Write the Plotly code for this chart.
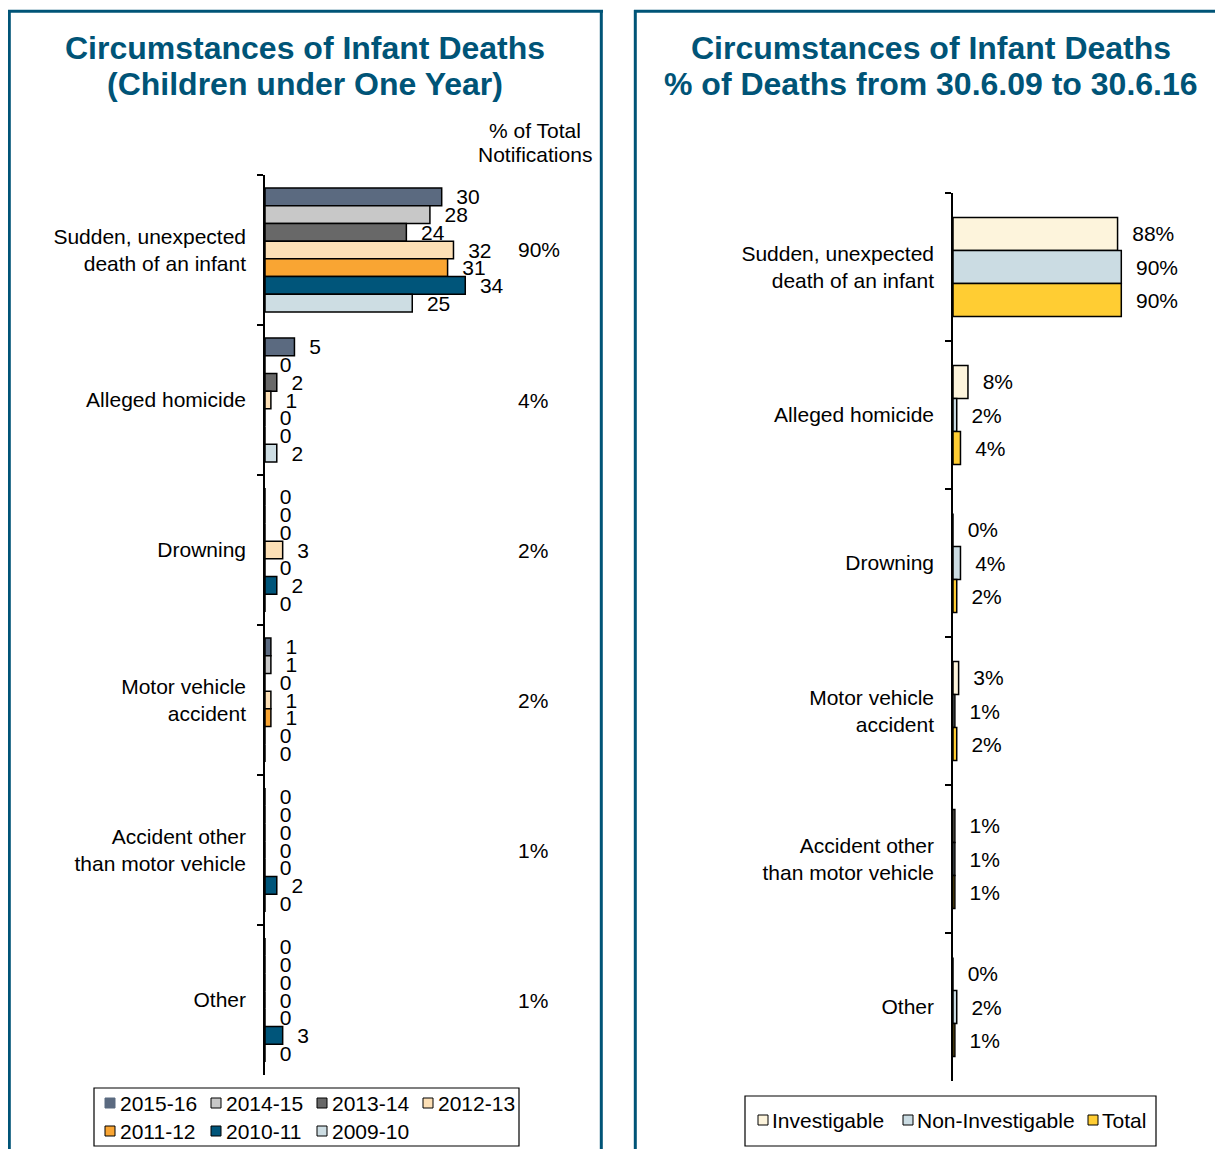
import plotly.graph_objects as go

# ---------------- data ----------------
categories = [
    "Sudden, unexpected<br>death of an infant",
    "Alleged homicide",
    "Drowning",
    "Motor vehicle<br>accident",
    "Accident other<br>than motor vehicle",
    "Other",
]

years = ["2015-16", "2014-15", "2013-14", "2012-13", "2011-12", "2010-11", "2009-10"]
v_2015_16 = [30, 5, 0, 1, 0, 0]
v_2014_15 = [28, 0, 0, 1, 0, 0]
v_2013_14 = [24, 2, 0, 0, 0, 0]
v_2012_13 = [32, 1, 3, 1, 0, 0]
v_2011_12 = [31, 0, 0, 1, 0, 0]
v_2010_11 = [34, 0, 2, 0, 2, 3]
v_2009_10 = [25, 2, 0, 0, 0, 0]
year_values = [v_2015_16, v_2014_15, v_2013_14, v_2012_13, v_2011_12, v_2010_11, v_2009_10]
pct_total = ["90%", "4%", "2%", "2%", "1%", "1%"]

groups = ["Investigable", "Non-Investigable", "Total"]
investigable = [88, 8, 0, 3, 1, 0]
non_investigable = [90, 2, 4, 1, 1, 2]
total = [90, 4, 2, 2, 1, 1]
group_values = [investigable, non_investigable, total]

# ---------------- styling ----------------
W, H = 1223, 1149
OFF = 8  # page body margin offset
FONT = "Liberation Sans, Arial, sans-serif"
TEAL = "#005477"
year_colors = ["#5b6a80", "#c8c8c8", "#686868", "#fde0b6", "#f9a533", "#00557a", "#cddde3"]
group_colors = ["#fdf4dc", "#cbdce3", "#ffcd33"]


def px(x):
    return (x - OFF) / W


def py(y):
    return 1 - (y - OFF) / H


fig = go.Figure()

# left chart bars
wL = 0.118
GL = wL * len(years)
for i, (name, vals, col) in enumerate(zip(years, year_values, year_colors)):
    fig.add_trace(go.Bar(
        y=categories, x=vals, orientation="h", name=name,
        marker=dict(color=col, line=dict(color="black", width=1.5)),
        width=wL, offset=-GL / 2 + i * wL,
        text=["\u00a0\u00a0" + str(v) for v in vals],
        textposition="outside", cliponaxis=False, constraintext="none",
        textfont=dict(size=21, color="black", family=FONT),
        xaxis="x", yaxis="y", showlegend=False, hoverinfo="skip",
    ))

# right chart bars
wR = 0.223
GR = wR * len(groups)
for i, (name, vals, col) in enumerate(zip(groups, group_values, group_colors)):
    fig.add_trace(go.Bar(
        y=categories, x=vals, orientation="h", name=name,
        marker=dict(color=col, line=dict(color="black", width=1.5)),
        width=wR, offset=-GR / 2 + i * wR,
        text=["\u00a0\u00a0" + str(v) + "%" for v in vals],
        textposition="outside", cliponaxis=False, constraintext="none",
        textfont=dict(size=21, color="black", family=FONT),
        xaxis="x2", yaxis="y2", showlegend=False, hoverinfo="skip",
    ))

yax_common = dict(
    type="category", categoryorder="array", categoryarray=categories,
    range=[len(categories) - 0.5, -0.5],
    showline=True, linecolor="black", linewidth=1.5,
    ticks="outside", ticklen=6, tickwidth=1.5, tickcolor="black",
    tickson="boundaries", showgrid=False, zeroline=False,
    tickfont=dict(size=21, color="black", family=FONT),
    ticklabelstandoff=13, fixedrange=True,
)

fig.update_layout(
    width=W, height=H,
    margin=dict(l=0, r=0, t=0, b=0),
    paper_bgcolor="white", plot_bgcolor="rgba(0,0,0,0)",
    barmode="overlay", showlegend=False,
    font=dict(family=FONT, size=21, color="black"),
    xaxis=dict(domain=[px(265), px(600)], range=[0, 335 / 5.89], visible=False, anchor="y"),
    yaxis=dict(domain=[py(1075), py(175)], anchor="x", **yax_common),
    xaxis2=dict(domain=[px(953), px(1215)], range=[0, 262 / 1.87], visible=False, anchor="y2"),
    yaxis2=dict(domain=[py(1081), py(193)], anchor="x2", **yax_common),
)

shapes = []
annotations = []

# panel borders
bl = dict(color=TEAL, width=3)
shapes += [
    dict(type="line", xref="paper", yref="paper", x0=px(9.3), x1=px(9.3), y0=py(10), y1=py(1170), line=bl),
    dict(type="line", xref="paper", yref="paper", x0=px(8), x1=px(603), y0=py(11.3), y1=py(11.3), line=bl),
    dict(type="line", xref="paper", yref="paper", x0=px(601.3), x1=px(601.3), y0=py(10), y1=py(1170), line=bl),
    dict(type="line", xref="paper", yref="paper", x0=px(635.3), x1=px(635.3), y0=py(10), y1=py(1170), line=bl),
    dict(type="line", xref="paper", yref="paper", x0=px(634), x1=px(1240), y0=py(11.3), y1=py(11.3), line=bl),
]

# titles
title_font = dict(family=FONT, size=32, color=TEAL)
for txt, xc, yc in [
    ("Circumstances of Infant Deaths", 305, 48),
    ("(Children under One Year)", 305, 84),
    ("Circumstances of Infant Deaths", 931, 48),
    ("% of Deaths from 30.6.09 to 30.6.16", 931, 84),
]:
    annotations.append(dict(text="<b>" + txt + "</b>", x=px(xc), y=py(yc), xref="paper", yref="paper",
                            xanchor="center", yanchor="middle", showarrow=False, font=title_font))

# % of total column (left chart)
for txt, yc in [("% of Total", 131), ("Notifications", 155)]:
    annotations.append(dict(text=txt, x=px(534.5), y=py(yc), xref="paper", yref="paper",
                            xanchor="center", yanchor="middle", showarrow=False,
                            font=dict(family=FONT, size=21, color="black")))
for cat, p in zip(categories, pct_total):
    annotations.append(dict(text=p, x=px(516), y=cat, xref="paper", yref="y",
                            xanchor="left", yanchor="middle", showarrow=False,
                            font=dict(family=FONT, size=21, color="black")))

# left legend
shapes.append(dict(type="rect", xref="paper", yref="paper", x0=px(94), x1=px(519), y0=py(1088), y1=py(1146),
                   line=dict(color="black", width=1.2), fillcolor="rgba(0,0,0,0)"))
for i, (name, col) in enumerate(zip(years, year_colors)):
    r, c = divmod(i, 4)
    sx = 105 + 106 * c
    sy = 1103 + 28 * r
    shapes.append(dict(type="rect", xref="paper", yref="paper", x0=px(sx), x1=px(sx + 10),
                       y0=py(sy - 5), y1=py(sy + 5), fillcolor=col,
                       line=dict(color="black" if i > 0 else col, width=1)))
    annotations.append(dict(text=name, x=px(sx + 13), y=py(sy), xref="paper", yref="paper",
                            xanchor="left", yanchor="middle", showarrow=False,
                            font=dict(family=FONT, size=21, color="black")))

# right legend
shapes.append(dict(type="rect", xref="paper", yref="paper", x0=px(745), x1=px(1156), y0=py(1096), y1=py(1146),
                   line=dict(color="black", width=1.2), fillcolor="rgba(0,0,0,0)"))
for name, col, sx in zip(groups, group_colors, [758, 903, 1088]):
    sy = 1120
    shapes.append(dict(type="rect", xref="paper", yref="paper", x0=px(sx), x1=px(sx + 10),
                       y0=py(sy - 5), y1=py(sy + 5), fillcolor=col, line=dict(color="black", width=1)))
    annotations.append(dict(text=name, x=px(sx + 12), y=py(sy), xref="paper", yref="paper",
                            xanchor="left", yanchor="middle", showarrow=False,
                            font=dict(family=FONT, size=21, color="black")))

fig.update_layout(shapes=shapes, annotations=annotations)
fig.write_html("out.html")
